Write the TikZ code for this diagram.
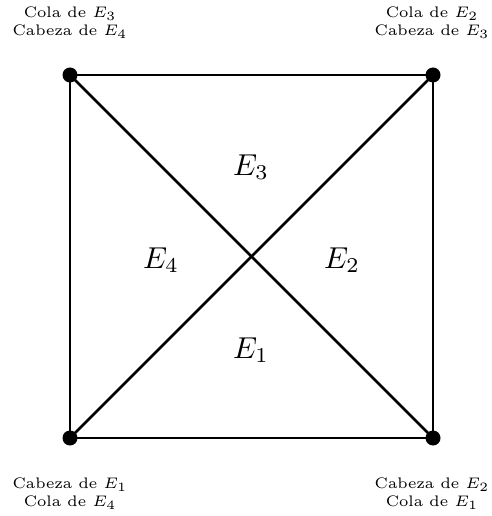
\documentclass[tikz,border=0pt]{standalone}
\usepackage{graphicx}
\newcommand{\cornertext}[2]{\scalebox{1.45}{\fontsize{6}{6.9}\selectfont\begin{tabular}{@{}c@{}}#1\\#2\end{tabular}}}
\newcommand{\regiontext}[1]{\scalebox{1.72}{\normalsize$#1$}}
\begin{document}
\begin{tikzpicture}[x=0.02cm,y=-0.02cm,
  edge/.style={line width=1.6pt},
  vert/.style={circle,fill=black,inner sep=0pt,minimum size=0.3cm},
  cornerlbl/.style={inner sep=0pt},
  region/.style={inner sep=0pt}]
\useasboundingbox (0,0) rectangle (491,516);
\node[vert] (tl) at (70,75) {};
\node[vert] (tr) at (433,75) {};
\node[vert] (bl) at (70,438) {};
\node[vert] (br) at (433,438) {};
\draw[edge] (tl.center) -- (tr.center) -- (br.center) -- (bl.center) -- cycle;
\draw[edge] (tl.center) -- (br.center);
\draw[edge] (bl.center) -- (tr.center);
\node[cornerlbl] (ltl) at (70,23) {\cornertext{Cola de $E_3$}{Cabeza de $E_4$}};
\node[cornerlbl] (ltr) at (432,23) {\cornertext{Cola de $E_2$}{Cabeza de $E_3$}};
\node[cornerlbl] (lbl) at (70,494) {\cornertext{Cabeza de $E_1$}{Cola de $E_4$}};
\node[cornerlbl] (lbr) at (432,494) {\cornertext{Cabeza de $E_2$}{Cola de $E_1$}};
\node[region] (e3) at (251,167) {\regiontext{E_3}};
\node[region] (e4) at (161,260) {\regiontext{E_4}};
\node[region] (e2) at (342,260) {\regiontext{E_2}};
\node[region] (e1) at (251,350) {\regiontext{E_1}};
\end{tikzpicture}
\end{document}
